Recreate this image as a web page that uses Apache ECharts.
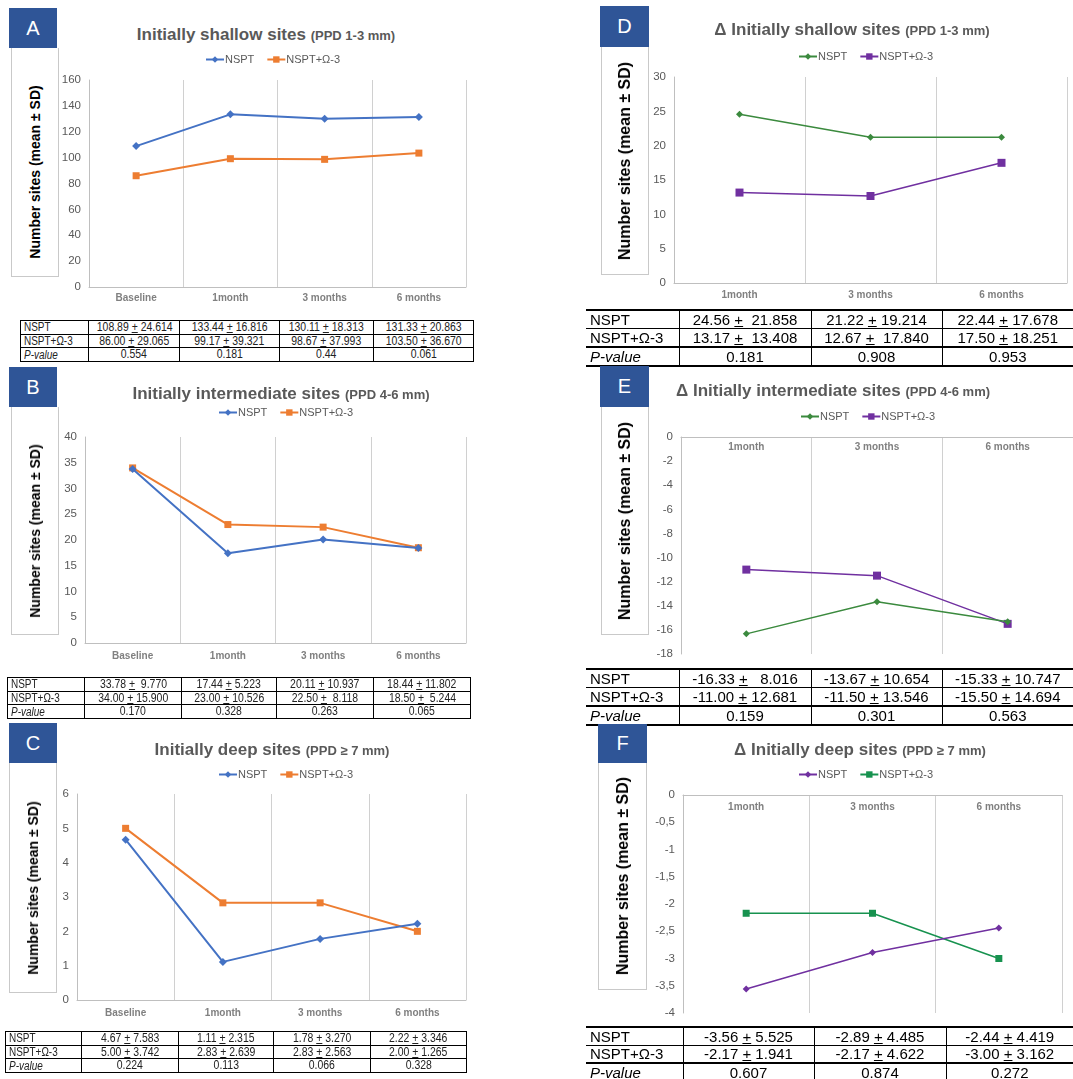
<!DOCTYPE html>
<html><head><meta charset="utf-8">
<script src="https://cdn.jsdelivr.net/npm/echarts@6/dist/echarts.min.js"></script>
<style>
body{margin:0;width:1073px;height:1079px;position:relative;background:#fff;font-family:"Liberation Sans",Arial,sans-serif;overflow:hidden}
.lab{position:absolute;background:#2f5597;color:#fff;font-size:20px;display:flex;align-items:center;justify-content:center}
.ybox{position:absolute;border:1px solid #c9c9c9;border-top:none;box-sizing:border-box}
.ytxt{position:absolute;left:50%;top:50%;white-space:nowrap;font-weight:bold;color:#000}
.ttl{position:absolute;transform:translate(-50%,-50%);white-space:nowrap;font-weight:bold;color:#595959;font-size:17px}
.ttl span{font-size:13px}
.chart{position:absolute;left:0;top:0;width:1073px;height:1079px;pointer-events:none}
table{position:absolute;border-collapse:collapse;table-layout:fixed}
table td{padding:0;white-space:pre;overflow:hidden;line-height:1}
table.sm{font-size:12.6px;color:#222}
table.sm td{border:1.5px solid #000;text-align:center}
table.sm td span{display:inline-block;transform:scaleX(0.83);transform-origin:center center}
table.sm td.h{text-align:left;padding-left:3px;font-size:12px}
table.sm td.h span{transform-origin:left center}
table.lg{font-size:15px;color:#000}
table.lg td{text-align:center;border-left:1px solid #000;border-right:1px solid #000}
table.lg td.h{text-align:left;padding-left:4px;border-left:none}
table.lg td.last{border-right:none}
table.lg tr.r0 td{border-top:2px solid #000;border-bottom:1px solid #000}
table.lg tr.r1 td{border-bottom:2px solid #000}
table.lg tr.r2 td{border-bottom:2px solid #000}
</style></head>
<body>
<script>
// ---------------- data ----------------
const catsLeft = ['Baseline', '1month', '3 months', '6 months'];
const catsRight = ['1month', '3 months', '6 months'];
const seriesNames = ['NSPT', 'NSPT+Ω-3'];
const rowHeads = ['NSPT', 'NSPT+Ω-3', 'P-value'];

const A_nspt = [108.89, 133.44, 130.11, 131.33];
const A_omega = [86.00, 99.17, 98.67, 103.50];
const B_nspt = [33.78, 17.44, 20.11, 18.44];
const B_omega = [34.00, 23.00, 22.50, 18.50];
const C_nspt = [4.67, 1.11, 1.78, 2.22];
const C_omega = [5.00, 2.83, 2.83, 2.00];
const D_nspt = [24.56, 21.22, 21.22];
const D_omega = [13.17, 12.67, 17.50];
const E_nspt = [-16.33, -13.67, -15.33];
const E_omega = [-11.00, -11.50, -15.50];
const F_nspt = [-3.56, -2.89, -2.44];
const F_omega = [-2.17, -2.17, -3.00];

const tA_nspt = ['108.89 + 24.614', '133.44 + 16.816', '130.11 + 18.313', '131.33 + 20.863'];
const tA_omega = ['86.00 + 29.065', '99.17 + 39.321', '98.67 + 37.993', '103.50 + 36.670'];
const tA_p = ['0.554', '0.181', '0.44', '0.061'];
const tB_nspt = ['33.78 +  9.770', '17.44 + 5.223', '20.11 + 10.937', '18.44 + 11.802'];
const tB_omega = ['34.00 + 15.900', '23.00 + 10.526', '22.50 +  8.118', '18.50 +  5.244'];
const tB_p = ['0.170', '0.328', '0.263', '0.065'];
const tC_nspt = ['4.67 + 7.583', '1.11 + 2.315', '1.78 + 3.270', '2.22 + 3.346'];
const tC_omega = ['5.00 + 3.742', '2.83 + 2.639', '2.83 + 2.563', '2.00 + 1.265'];
const tC_p = ['0.224', '0.113', '0.066', '0.328'];
const tD_nspt = ['24.56 +  21.858', '21.22 + 19.214', '22.44 + 17.678'];
const tD_omega = ['13.17 +  13.408', '12.67 +  17.840', '17.50 + 18.251'];
const tD_p = ['0.181', '0.908', '0.953'];
const tE_nspt = ['-16.33 +   8.016', '-13.67 + 10.654', '-15.33 + 10.747'];
const tE_omega = ['-11.00 + 12.681', '-11.50 + 13.546', '-15.50 + 14.694'];
const tE_p = ['0.159', '0.301', '0.563'];
const tF_nspt = ['-3.56 + 5.525', '-2.89 + 4.485', '-2.44 + 4.419'];
const tF_omega = ['-2.17 + 1.941', '-2.17 + 4.622', '-3.00 + 3.162'];
const tF_p = ['0.607', '0.874', '0.272'];

// ---------------- colours ----------------
const BLUE = '#4472c4', ORANGE = '#ed7d31', GREEN = '#3b8a3e', PURPLE = '#7030a0', TEAL = '#17924f';

// ---------------- layout ----------------
const panels = [
  {L:'A', title:'Initially shallow sites', sub:'(PPD 1-3 mm)', lab:[9,8,48,40], ybox:[11,48,48,229], yfs:14, yoff:10, tc:[266,35],
   leg:[205,54], grid:[89,80,377,207], cats:catsLeft, y:[0,160,20], xTop:false, xm:6,
   s:[[A_nspt,BLUE,'diamond',8,2],[A_omega,ORANGE,'rect',7,2]],
   tbl:{cls:'sm', x:20, y:320, cw:[68,91,100,94,100], rh:13.67, rows:[tA_nspt,tA_omega,tA_p]}},
  {L:'B', title:'Initially intermediate sites', sub:'(PPD 4-6 mm)', lab:[9,367,48,40], ybox:[11,407,48,228], yfs:14, yoff:10, tc:[281,394],
   leg:[218,407], grid:[85,437,381,206], cats:catsLeft, y:[0,40,5], xTop:false, xm:8,
   s:[[B_nspt,BLUE,'diamond',8,2],[B_omega,ORANGE,'rect',7,2]],
   tbl:{cls:'sm', x:7, y:677, cw:[77,97,95,97,97], rh:13.67, rows:[tB_nspt,tB_omega,tB_p]}},
  {L:'C', title:'Initially deep sites', sub:'(PPD \u2265 7 mm)', lab:[9,723,48,40], ybox:[9,763,48,230], yfs:14, yoff:10, tc:[272,750],
   leg:[218,769], grid:[77,794,389,206], cats:catsLeft, y:[0,6,1], xTop:false, xm:8,
   s:[[C_nspt,BLUE,'diamond',8,2],[C_omega,ORANGE,'rect',7,2]],
   tbl:{cls:'sm', x:5, y:1031, cw:[76,97,95,97,96], rh:13.67, rows:[tC_nspt,tC_omega,tC_p]}},
  {L:'D', title:'\u0394 Initially shallow sites', sub:'(PPD 1-3 mm)', lab:[600,6,49,41], ybox:[601,47,48,228], yfs:16, yoff:0, tc:[852,30],
   leg:[798,51], grid:[674,77,393,206], cats:catsRight, y:[0,30,5], xTop:false, xm:7,
   s:[[D_nspt,GREEN,'diamond',7,1.5],[D_omega,PURPLE,'rect',8,1.5]],
   tbl:{cls:'lg', x:586, y:309, cw:[93,132,131,131], rh:18.7, rows:[tD_nspt,tD_omega,tD_p]}},
  {L:'E', title:'\u0394 Initially intermediate sites', sub:'(PPD 4-6 mm)', lab:[600,366,49,41], ybox:[601,407,48,228], yfs:16, yoff:0, tc:[833,391],
   leg:[800,411], grid:[681,437,392,217], cats:catsRight, y:[-18,0,2], xTop:true, xm:5,
   s:[[E_nspt,GREEN,'diamond',7,1.5],[E_omega,PURPLE,'rect',8,1.5]],
   tbl:{cls:'lg', x:586, y:668, cw:[93,132,131,131], rh:18.7, rows:[tE_nspt,tE_omega,tE_p]}},
  {L:'F', title:'\u0394 Initially deep sites', sub:'(PPD \u2265 7 mm)', lab:[598,724,49,39], ybox:[598,763,49,227], yfs:16, yoff:0, tc:[860,750],
   leg:[798,769], grid:[683,795,379,218], cats:catsRight, y:[-4,0,0.5], xTop:true, xm:7, comma:true,
   s:[[F_nspt,PURPLE,'diamond',7,1.5],[F_omega,TEAL,'rect',7,1.5]],
   tbl:{cls:'lg', x:586, y:1026, cw:[97,131,132,127], rh:18, rows:[tF_nspt,tF_omega,tF_p]}}
];

function el(tag, cls, style, html) {
  const e = document.createElement(tag);
  if (cls) e.className = cls;
  Object.assign(e.style, style || {});
  if (html != null) e.innerHTML = html;
  document.body.appendChild(e);
  return e;
}
const px = v => v + 'px';
function cellHtml(s) { return '<span>' + s.replace('+', '<u>+</u>') + '</span>'; }

panels.forEach(p => {
  el('div', 'lab', {left:px(p.lab[0]), top:px(p.lab[1]), width:px(p.lab[2]), height:px(p.lab[3])}, p.L);
  const yb = el('div', 'ybox', {left:px(p.ybox[0]), top:px(p.ybox[1]), width:px(p.ybox[2]), height:px(p.ybox[3])});
  const yt = document.createElement('div'); yt.className = 'ytxt';
  yt.style.fontSize = px(p.yfs);
  yt.style.transform = 'translate(-50%,calc(-50% + ' + p.yoff + 'px)) rotate(-90deg)';
  yt.textContent = 'Number sites (mean \u00b1 SD)'; yb.appendChild(yt);
  el('div', 'ttl', {left:px(p.tc[0]), top:px(p.tc[1])}, p.title + ' <span>' + p.sub + '</span>');

  // table
  const t = p.tbl;
  let h = '<colgroup>' + t.cw.map(w => '<col style="width:' + w + 'px">').join('') + '</colgroup>';
  t.rows.forEach((r, i) => {
    h += '<tr class="r' + i + '" style="height:' + t.rh + 'px"><td class="h"' + (i === 2 ? ' style="font-style:italic"' : '') + '><span>' + rowHeads[i] + '</span></td>';
    r.forEach((c, j) => { h += '<td' + (j === r.length - 1 ? ' class="last"' : '') + '>' + cellHtml(c) + '</td>'; });
    h += '</tr>';
  });
  const tw = t.cw.reduce((a, b) => a + b, 0);
  el('table', t.cls, {left:px(t.x), top:px(t.y), width:px(tw)}, h);

  // chart
  const div = el('div', 'chart', {});
  const chart = echarts.init(div, null, {renderer:'canvas'});
  chart.setOption({
    animation:false,
    textStyle:{fontFamily:'"Liberation Sans", Arial, sans-serif'},
    legend:{left:p.leg[0], top:p.leg[1], padding:0, itemWidth:18, itemHeight:8, itemGap:12, orient:'horizontal',
      textStyle:{color:'#595959', fontSize:11, padding:[0,0,0,-4]}, data:seriesNames},
    grid:{left:p.grid[0], top:p.grid[1], width:p.grid[2], height:p.grid[3], containLabel:false, outerBoundsMode:'none'},
    xAxis:{type:'category', data:p.cats, boundaryGap:true, position:p.xTop ? 'top' : 'bottom',
      axisLine:{show:true, onZero:false, lineStyle:{color:'#bfbfbf', width:1}},
      axisTick:{show:false},
      splitLine:{show:true, lineStyle:{color:'#d0d0d0', width:1}},
      axisLabel:{inside:p.xTop, margin:p.xm, color:'#808080', fontSize:10, fontWeight:'bold'}},
    yAxis:{type:'value', min:p.y[0], max:p.y[1], interval:p.y[2],
      axisLine:{show:true, lineStyle:{color:'#bfbfbf', width:1}},
      axisTick:{show:false}, splitLine:{show:false},
      axisLabel:{color:'#595959', fontSize:11.5, margin:8,
        formatter: v => p.comma ? String(v).replace('.', ',') : String(v)}},
    series:p.s.map((s, i) => ({
      name:seriesNames[i], type:'line', data:s[0], symbol:s[2], symbolSize:s[3],
      lineStyle:{color:s[1], width:s[4]}, itemStyle:{color:s[1]}, z:i === 0 ? 3 : 2
    }))
  });
});
</script>
</body></html>
